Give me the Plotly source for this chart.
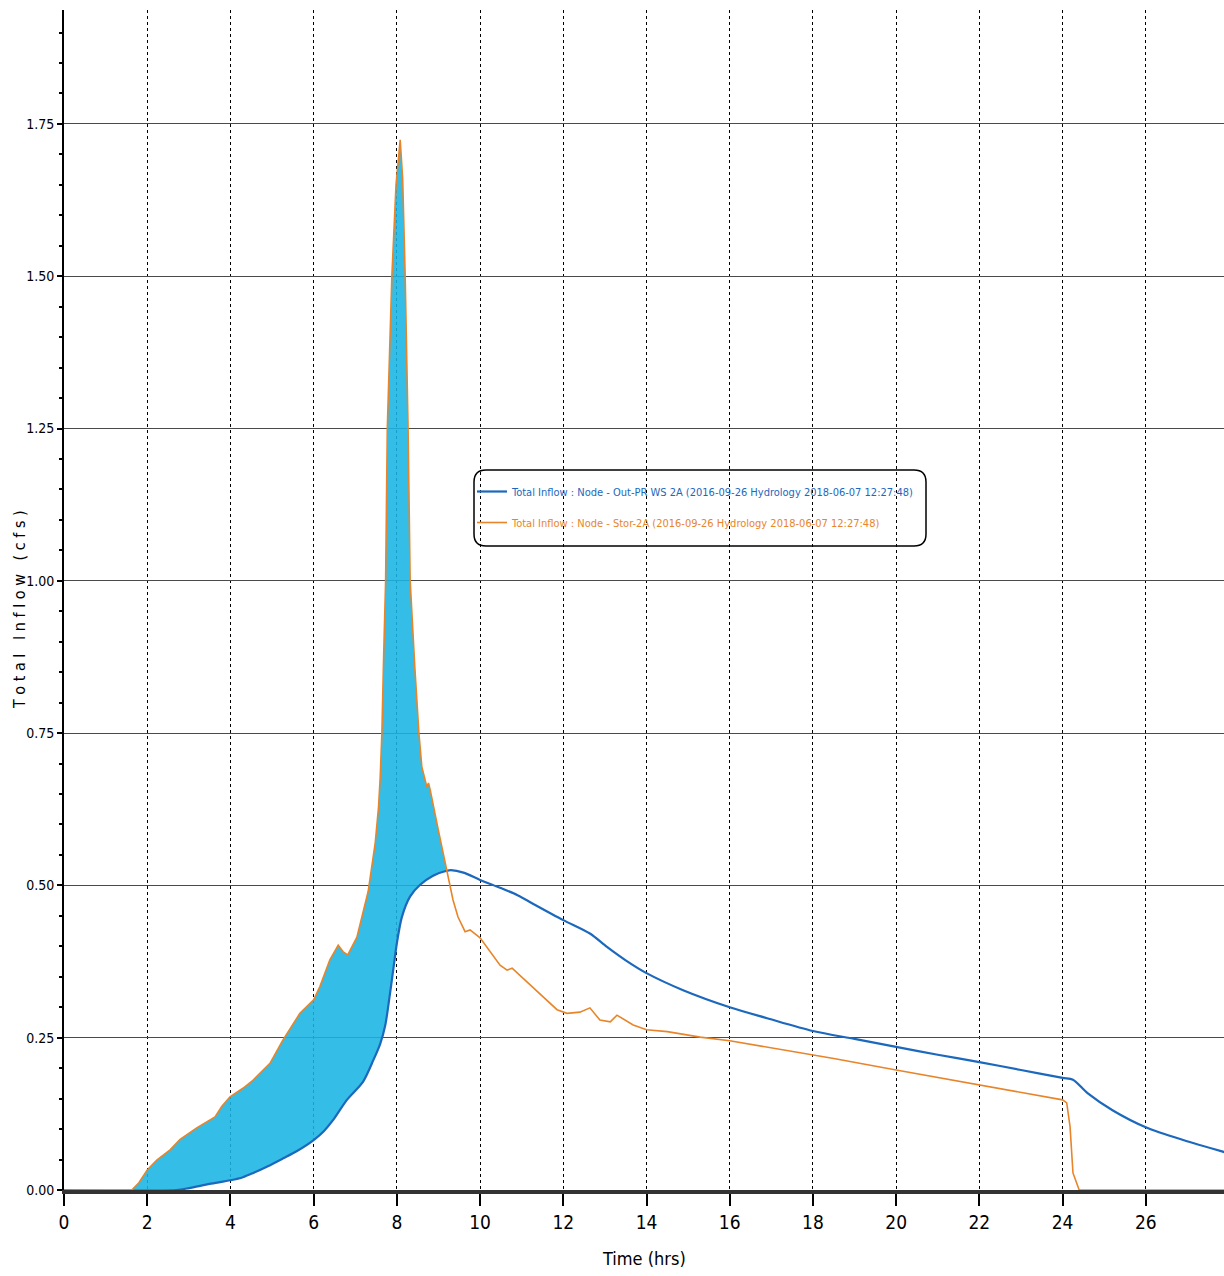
import plotly.graph_objects as go

# ---- data ----
orange_t = [0, 1.63, 1.8, 2.0, 2.23, 2.55, 2.79, 3.19, 3.63, 3.79, 3.99, 4.3, 4.54, 4.95, 5.26, 5.51, 5.67,
            6.0, 6.15, 6.39, 6.59, 6.71, 6.82, 7.04, 7.19, 7.31, 7.48, 7.56, 7.6, 7.64, 7.68, 7.73, 7.77,
            7.88, 7.98, 8.08, 8.14, 8.2, 8.27, 8.32, 8.43, 8.53, 8.60, 8.72, 8.76, 8.80, 9.0, 9.2, 9.35,
            9.47, 9.64, 9.76, 10.0, 10.48, 10.65, 10.77, 11.27, 11.85, 12.09, 12.4, 12.64, 12.88, 13.13,
            13.29, 13.68, 14.0, 14.5, 15.29, 16.0, 17.2, 17.69, 18.5, 20.0, 21.0, 22.0, 23.0, 24.0, 24.1,
            24.18, 24.25, 24.4, 27.9]
orange_q = [0, 0, 0.012, 0.033, 0.049, 0.066, 0.083, 0.102, 0.12, 0.137, 0.153, 0.167, 0.18, 0.208, 0.246,
            0.274, 0.29, 0.312, 0.334, 0.378, 0.402, 0.391, 0.386, 0.415, 0.455, 0.49, 0.57, 0.629, 0.678,
            0.75, 0.87, 1.00, 1.25, 1.50, 1.65, 1.724, 1.66, 1.50, 1.25, 1.00, 0.86, 0.75, 0.695, 0.662,
            0.668, 0.657, 0.59, 0.525, 0.476, 0.448, 0.424, 0.427, 0.414, 0.369, 0.361, 0.364, 0.333,
            0.296, 0.29, 0.292, 0.299, 0.279, 0.276, 0.287, 0.271, 0.263, 0.26, 0.251, 0.245, 0.231, 0.225,
            0.216, 0.197, 0.185, 0.172, 0.160, 0.148, 0.143, 0.104, 0.028, 0, 0]

blue_t = [0, 2.7, 3.0, 3.5, 4.0, 4.3, 4.55, 4.9, 5.27, 5.6, 6.0, 6.25, 6.47, 6.8, 7.19, 7.44, 7.60, 7.72,
          7.80, 7.92, 8.0, 8.12, 8.32, 8.56, 8.87, 9.2, 9.3, 9.6, 10.0, 10.48, 10.9, 11.27, 12.0, 12.64,
          13.05, 13.5, 14.0, 14.88, 16.0, 16.9, 18.0, 19.0, 20.0, 21.0, 22.0, 23.0, 24.0, 24.25, 24.6,
          25.2, 26.0, 26.9, 27.9]
blue_q = [0, 0, 0.003, 0.010, 0.016, 0.021, 0.028, 0.039, 0.052, 0.064, 0.082, 0.097, 0.115, 0.148, 0.178,
          0.214, 0.240, 0.270, 0.305, 0.365, 0.405, 0.448, 0.482, 0.501, 0.516, 0.524, 0.525, 0.521, 0.509,
          0.496, 0.484, 0.470, 0.443, 0.421, 0.399, 0.377, 0.356, 0.328, 0.300, 0.282, 0.261, 0.248, 0.235,
          0.222, 0.210, 0.197, 0.184, 0.181, 0.159, 0.131, 0.103, 0.082, 0.062]

highlight_range = [1.63, 9.2]

blue_name = "Total Inflow : Node - Out-PR WS 2A (2016-09-26 Hydrology 2018-06-07 12:27:48)"
orange_name = "Total Inflow : Node - Stor-2A (2016-09-26 Hydrology 2018-06-07 12:27:48)"

x_ticks = list(range(0, 28, 2))
y_ticks = [0.0, 0.25, 0.5, 0.75, 1.0, 1.25, 1.5, 1.75]
y_tick_text = ["0.00", "0.25", "0.50", "0.75", "1.00", "1.25", "1.50", "1.75"]

BLUE = "#1b68bd"
ORANGE = "#e8852a"
CYAN = "rgba(24,180,226,0.88)"
FONT = "Liberation Sans Narrow, DejaVu Sans Condensed, Roboto Condensed, Roboto, sans-serif"

# highlighted band: blue lower edge, orange upper edge
lo, hi = highlight_range
band_bt = [t for t in blue_t if lo <= t <= hi]
band_bq = [q for t, q in zip(blue_t, blue_q) if lo <= t <= hi]
band_ot = [t for t in orange_t if lo <= t <= hi]
band_oq = [q for t, q in zip(orange_t, orange_q) if lo <= t <= hi]

fig = go.Figure()
fig.add_trace(go.Scatter(x=band_bt, y=band_bq, mode="lines",
                         line=dict(width=0, shape="spline", smoothing=0.8),
                         showlegend=False, hoverinfo="skip"))
fig.add_trace(go.Scatter(x=band_ot, y=band_oq, mode="lines", fill="tonexty", fillcolor=CYAN,
                         line=dict(width=0), showlegend=False, hoverinfo="skip"))
fig.add_trace(go.Scatter(x=blue_t, y=blue_q, mode="lines",
                         line=dict(color=BLUE, width=2.2, shape="spline", smoothing=0.8),
                         legendgroup="a",
                         name=f"<span style='color:{BLUE}'>{blue_name}</span>"))
fig.add_trace(go.Scatter(x=orange_t, y=orange_q, mode="lines", line=dict(color=ORANGE, width=1.6),
                         legendgroup="b",
                         name=f"<span style='color:{ORANGE}'>{orange_name}</span>"))

W, H = 1224, 1276
L, R, T, B = 64, 0, 10, 86
pw, ph = W - L - R, H - T - B

def px_x(p):
    return (p - L) / pw

def px_y(p):
    return (H - B - p) / ph

# rounded legend frame
x0, x1 = px_x(474), px_x(926)
y0, y1 = px_y(546), px_y(470)
rx, ry = 12 / pw, 12 / ph
path = (f"M {x0+rx},{y0} L {x1-rx},{y0} Q {x1},{y0} {x1},{y0+ry} L {x1},{y1-ry} Q {x1},{y1} {x1-rx},{y1} "
        f"L {x0+rx},{y1} Q {x0},{y1} {x0},{y1-ry} L {x0},{y0+ry} Q {x0},{y0} {x0+rx},{y0} Z")
fig.add_shape(type="path", path=path, xref="paper", yref="paper",
              line=dict(color="black", width=1.5), fillcolor="white", layer="below")

fig.update_layout(
    width=W, height=H,
    margin=dict(l=L, r=R, t=T, b=B),
    paper_bgcolor="white", plot_bgcolor="white",
    font=dict(family=FONT, color="black"),
    legend=dict(x=px_x(472), y=px_y(477), xanchor="left", yanchor="top",
                bgcolor="rgba(0,0,0,0)", borderwidth=0,
                font=dict(family=FONT, size=11), itemwidth=30, tracegroupgap=12),
    annotations=[
        dict(text="T o t a l   I n f l o w   ( c f s )", xref="paper", yref="paper",
             x=px_x(19), y=px_y(610), textangle=-90, showarrow=False,
             font=dict(family=FONT, size=16, color="black"), xanchor="center", yanchor="middle"),
        dict(text="Time (hrs)", xref="paper", yref="paper", x=0.5, y=px_y(1258),
             showarrow=False, font=dict(family=FONT, size=18, color="black"),
             xanchor="center", yanchor="middle"),
    ],
)

fig.update_xaxes(range=[0, 27.88], tickvals=x_ticks, ticktext=[str(v) for v in x_ticks],
                 showgrid=True, gridcolor="black", griddash="dot", gridwidth=1.3,
                 showline=True, linecolor="#333333", linewidth=4,
                 ticks="outside", ticklen=12, tickwidth=1.5, tickcolor="black",
                 tickfont=dict(family=FONT, size=19, color="black"),
                 zeroline=False, layer="below traces")
fig.update_yaxes(range=[0, 1.937], tickvals=y_ticks, ticktext=y_tick_text,
                 showgrid=True, gridcolor="#4a4a4a", gridwidth=1.2,
                 showline=True, linecolor="black", linewidth=2,
                 ticks="outside", ticklen=5, tickwidth=1.5, tickcolor="black",
                 minor=dict(dtick=0.05, ticks="outside", ticklen=3, tickcolor="black", showgrid=False),
                 tickfont=dict(family=FONT, size=14, color="black"),
                 zeroline=False, layer="below traces")

fig.write_html("out.html")
